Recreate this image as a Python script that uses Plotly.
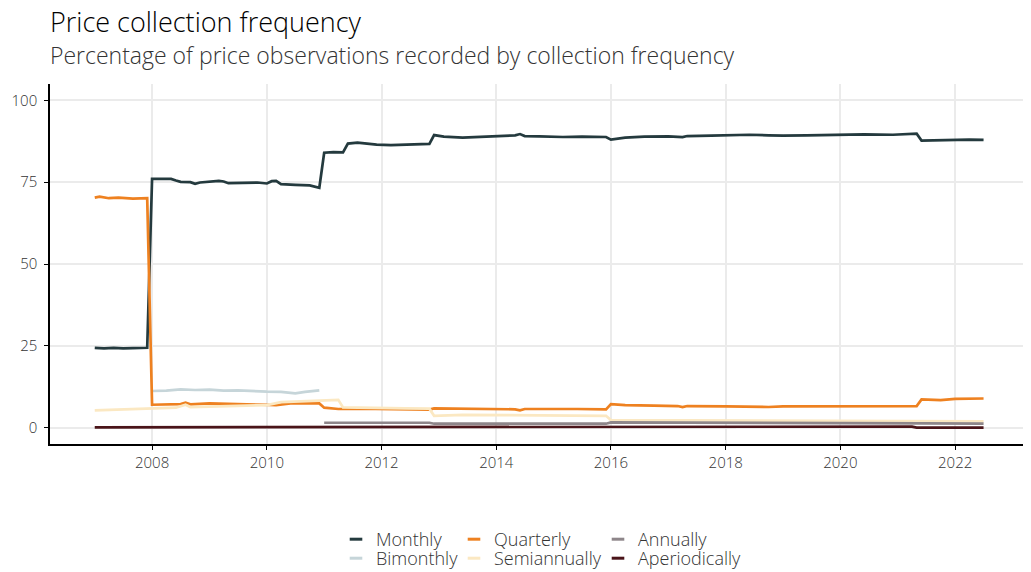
import plotly.graph_objects as go

# values (percent of price observations), monthly dates
monthly_dates = ["2007-01", "2007-03", "2007-05", "2007-07", "2007-09", "2007-12",
                 "2008-01", "2008-03", "2008-05", "2008-06", "2008-07", "2008-09", "2008-10", "2008-11",
                 "2009-01", "2009-03", "2009-04", "2009-05", "2009-08", "2009-11",
                 "2010-01", "2010-02", "2010-03", "2010-04", "2010-07", "2010-10", "2010-12",
                 "2011-01", "2011-03", "2011-05", "2011-06", "2011-08", "2011-10", "2011-12",
                 "2012-03", "2012-06", "2012-09", "2012-11", "2012-12",
                 "2013-02", "2013-06", "2013-10", "2014-01", "2014-05", "2014-06", "2014-07", "2014-10",
                 "2015-03", "2015-07", "2015-12", "2016-01", "2016-04", "2016-08",
                 "2017-01", "2017-04", "2017-05", "2017-10", "2018-02", "2018-06", "2018-10",
                 "2019-01", "2019-06", "2020-01", "2020-06", "2020-12",
                 "2021-02", "2021-04", "2021-05", "2021-06", "2021-09", "2022-01", "2022-04", "2022-07"]
monthly = [24.4, 24.2, 24.4, 24.2, 24.3, 24.4,
           76.0, 75.9, 76.0, 75.5, 75.1, 75.0, 74.5, 74.9,
           75.2, 75.4, 75.2, 74.7, 74.8, 74.9,
           74.6, 75.3, 75.4, 74.4, 74.2, 74.0, 73.3,
           84.0, 84.2, 84.1, 86.8, 87.1, 86.8, 86.5,
           86.3, 86.4, 86.6, 86.7, 89.4,
           88.9, 88.6, 88.8, 89.1, 89.3, 89.7, 89.1, 89.0,
           88.8, 88.9, 88.8, 88.0, 88.6, 88.9,
           89.0, 88.8, 89.1, 89.2, 89.4, 89.5, 89.3,
           89.2, 89.3, 89.5, 89.6, 89.5,
           89.6, 89.9, 89.8, 87.7, 87.8, 87.9, 88.0, 87.9]

quarterly_dates = ["2007-01", "2007-02", "2007-04", "2007-06", "2007-09", "2007-12",
                   "2008-01", "2008-04", "2008-07", "2008-08", "2008-09", "2009-01", "2009-06",
                   "2010-01", "2010-03", "2010-06", "2010-12",
                   "2011-01", "2011-04", "2011-08", "2012-06", "2012-11", "2012-12",
                   "2013-06", "2014-01", "2014-05", "2014-06", "2014-07", "2015-06", "2015-12",
                   "2016-01", "2016-04", "2016-10", "2017-03", "2017-04", "2017-05",
                   "2018-01", "2018-10", "2019-01", "2020-01", "2020-10", "2021-03", "2021-05",
                   "2021-06", "2021-10", "2022-01", "2022-07"]
quarterly = [70.3, 70.6, 70.1, 70.3, 70.0, 70.1,
             7.0, 7.0, 7.2, 7.6, 7.1, 7.4, 7.2,
             7.1, 6.9, 7.4, 7.4,
             6.1, 5.7, 5.8, 5.6, 5.5, 5.9,
             5.8, 5.7, 5.6, 5.3, 5.7, 5.7, 5.6,
             7.2, 6.9, 6.7, 6.6, 6.3, 6.6,
             6.5, 6.3, 6.5, 6.5, 6.5, 6.7, 6.6,
             8.6, 8.4, 8.8, 8.9]

bimonthly_dates = ["2008-01", "2008-04", "2008-07", "2008-10", "2009-01", "2009-04", "2009-07",
                   "2009-10", "2010-01", "2010-04", "2010-07", "2010-09", "2010-12"]
bimonthly = [11.2, 11.3, 11.7, 11.5, 11.6, 11.3, 11.4, 11.1, 11.0, 10.9, 10.5, 10.9, 11.4]

semiannual_dates = ["2007-01", "2007-06", "2008-01", "2008-06", "2008-08", "2008-09", "2009-01",
                    "2009-06", "2010-01", "2010-04", "2010-08", "2011-01", "2011-04", "2011-05",
                    "2011-10", "2012-06", "2012-11", "2012-12", "2013-06", "2014-06", "2015-06",
                    "2015-12", "2016-01", "2018-01", "2020-01", "2021-06", "2022-07"]
semiannual = [5.3, 5.5, 6.0, 6.1, 7.0, 6.3, 6.4,
              6.6, 6.9, 7.8, 8.0, 8.3, 8.5, 6.2,
              6.0, 5.9, 5.8, 3.6, 3.9, 3.8, 3.7,
              3.6, 2.3, 2.2, 2.2, 2.1, 1.9]

annual_dates = ["2011-01", "2012-06", "2012-11", "2012-12", "2014-01", "2015-12", "2016-01",
                "2018-01", "2020-01", "2021-05", "2021-06", "2022-07"]
annual = [1.5, 1.5, 1.5, 1.2, 1.2, 1.2, 1.6, 1.5, 1.5, 1.5, 1.3, 1.2]

aperiodic_dates = ["2007-01", "2010-12", "2011-01", "2012-01", "2013-01", "2016-01",
                   "2021-04", "2021-05", "2022-07"]
aperiodic = [0.1, 0.1, 0.2, 0.3, 0.3, 0.3, 0.3, 0.0, 0.0]

# name, dates, values, colour, legend slot (column, row)
series = [
    ("Monthly", monthly_dates, monthly, "#243a3e", (0, 0)),
    ("Bimonthly", bimonthly_dates, bimonthly, "#c6d5d9", (0, 1)),
    ("Quarterly", quarterly_dates, quarterly, "#ee8120", (1, 0)),
    ("Semiannually", semiannual_dates, semiannual, "#fbe8c2", (1, 1)),
    ("Annually", annual_dates, annual, "#8e868a", (2, 0)),
    ("Aperiodically", aperiodic_dates, aperiodic, "#4a1419", (2, 1)),
]

FONT = "Open Sans, Lato, sans-serif"
# the page body has an 8px margin, so the figure is 8px smaller than the window
W, H = 1023, 564
PL, PR, PT, PB = 42, 1020, 76, 436   # plot area, figure pixels
LEG_X = [328, 446, 590]
LEG_Y = [513, 532]

fig = go.Figure()
for name, d, v, col, _ in series:
    fig.add_trace(go.Scatter(
        x=d, y=v, mode="lines", name=name, showlegend=False,
        line=dict(color=col, width=2.7),
    ))

# one legend per entry, laid out as the 3x2 grid of the original
legends = {}
for i, (name, d, v, col, (c, r)) in enumerate(series):
    key = "legend" if i == 0 else f"legend{i + 1}"
    fig.add_trace(go.Scatter(
        x=[d[0]], y=[None], mode="markers", name=name, legend=key,
        marker=dict(symbol="line-ew", size=9, color=col, line=dict(width=3, color=col)),
    ))
    legends[key] = dict(
        xref="container", yref="container", yanchor="top", xanchor="left",
        x=LEG_X[c] / W, y=1 - LEG_Y[r] / H, bgcolor="rgba(0,0,0,0)",
        font=dict(family=FONT, size=18, color="#333333", weight=300),
    )
fig.update_layout(**legends)

fig.update_layout(
    width=W, height=H,
    margin=dict(l=PL, r=W - PR, t=PT, b=H - PB, autoexpand=False),
    paper_bgcolor="white", plot_bgcolor="white",
    font=dict(family=FONT, color="#333333", weight=300),
    title=dict(
        text="Price collection frequency",
        x=42 / W, xanchor="left", xref="container",
        y=1 - 5 / H, yanchor="top", yref="container",
        font=dict(size=27, color="black", weight=300),
    ),
    annotations=[dict(
        text="Percentage of price observations recorded by collection frequency",
        xref="paper", yref="paper",
        x=(40 - PL) / (PR - PL), y=(PB - 29) / (PB - PT),
        xanchor="left", yanchor="top", showarrow=False,
        font=dict(size=23, color="#333333", weight=300),
    )],
    xaxis=dict(
        type="date", range=["2006-03-22", "2023-04-10"],
        tick0="2008-01-01", dtick="M24", tickformat="%Y",
        showgrid=True, gridcolor="#ebebeb", gridwidth=1.8,
        showline=True, linecolor="black", linewidth=1.5,
        ticks="outside", ticklen=4, tickcolor="black",
        tickfont=dict(size=15, color="#333333"), zeroline=False,
    ),
    yaxis=dict(
        range=[-5, 105], tickvals=[0, 25, 50, 75, 100],
        showgrid=True, gridcolor="#ebebeb", gridwidth=1.8,
        showline=True, linecolor="black", linewidth=1.5,
        ticks="outside", ticklen=4, tickcolor="black", ticklabelstandoff=4,
        tickfont=dict(size=15, color="#333333"), zeroline=False,
    ),
)

fig.write_html("out.html")
